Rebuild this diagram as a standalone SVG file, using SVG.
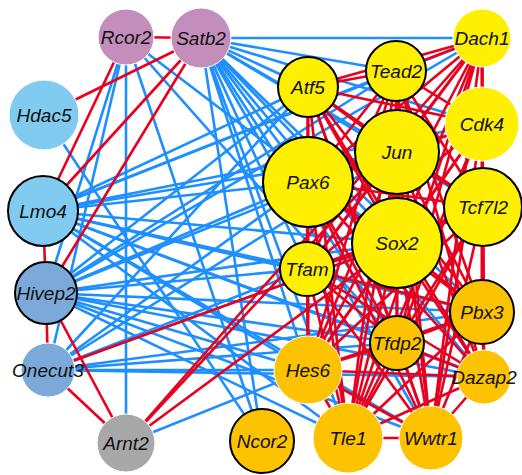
<svg xmlns="http://www.w3.org/2000/svg" width="522" height="475" viewBox="0 0 522 475">
<style>
.b{stroke:#1E8FFF;stroke-width:2.6;fill:none}
.r{stroke:#E8001F;stroke-width:2.6;fill:none}
.n{stroke:#ffffff;stroke-width:1}
.k{stroke:#000000;stroke-width:2}
.pu{fill:#C38EBC}.lb{fill:#80CBEF}.mb{fill:#7AA9DA}.gy{fill:#A8A8A8}.ye{fill:#FFEF00}.or{fill:#FDC200}
text{font-family:"Liberation Sans",Arial,sans-serif;font-style:italic;font-size:19px;text-anchor:middle;fill:#111}
</style>
<rect width="522" height="475" fill="#ffffff"/>
<g id="connectors">
<!-- blue: Satb2 -->
<line class="b" x1="201" y1="38" x2="482" y2="38"/>
<line class="b" x1="201" y1="38" x2="396" y2="71"/>
<line class="b" x1="201" y1="38" x2="482" y2="124"/>
<line class="b" x1="201" y1="38" x2="308" y2="87"/>
<line class="b" x1="201" y1="38" x2="397" y2="152"/>
<line class="b" x1="201" y1="38" x2="483" y2="207"/>
<line class="b" x1="201" y1="38" x2="308" y2="182"/>
<line class="b" x1="201" y1="38" x2="397" y2="243"/>
<line class="b" x1="201" y1="38" x2="307" y2="269"/>
<line class="b" x1="201" y1="38" x2="482" y2="312"/>
<line class="b" x1="201" y1="38" x2="397" y2="343"/>
<line class="b" x1="201" y1="38" x2="484" y2="377"/>
<line class="b" x1="201" y1="38" x2="308" y2="370"/>
<line class="b" x1="201" y1="38" x2="431" y2="438"/>
<line class="b" x1="201" y1="38" x2="348" y2="438"/>
<line class="b" x1="201" y1="38" x2="262" y2="441"/>
<!-- blue: Rcor2 -->
<line class="b" x1="126" y1="37" x2="46" y2="293"/>
<line class="b" x1="126" y1="37" x2="48" y2="370"/>
<line class="b" x1="126" y1="37" x2="126" y2="443"/>
<line class="b" x1="126" y1="37" x2="397" y2="343"/>
<line class="b" x1="126" y1="37" x2="397" y2="243"/>
<line class="b" x1="126" y1="37" x2="262" y2="441"/>
<!-- blue: Hdac5 -->
<line class="b" x1="44" y1="115" x2="262" y2="441"/>
<!-- blue: Lmo4 -->
<line class="b" x1="43" y1="211" x2="482" y2="38"/>
<line class="b" x1="43" y1="211" x2="308" y2="87"/>
<line class="b" x1="43" y1="211" x2="396" y2="71"/>
<line class="b" x1="43" y1="211" x2="482" y2="124"/>
<line class="b" x1="43" y1="211" x2="308" y2="182"/>
<line class="b" x1="43" y1="211" x2="397" y2="152"/>
<line class="b" x1="43" y1="211" x2="397" y2="243"/>
<line class="b" x1="43" y1="211" x2="307" y2="269"/>
<line class="b" x1="43" y1="211" x2="397" y2="343"/>
<line class="b" x1="43" y1="211" x2="308" y2="370"/>
<line class="b" x1="43" y1="211" x2="482" y2="312"/>
<line class="b" x1="43" y1="211" x2="484" y2="377"/>
<line class="b" x1="43" y1="211" x2="431" y2="438"/>
<line class="b" x1="43" y1="211" x2="348" y2="438"/>
<!-- blue: Hivep2 -->
<line class="b" x1="46" y1="293" x2="482" y2="38"/>
<line class="b" x1="46" y1="293" x2="308" y2="87"/>
<line class="b" x1="46" y1="293" x2="396" y2="71"/>
<line class="b" x1="46" y1="293" x2="308" y2="182"/>
<line class="b" x1="46" y1="293" x2="397" y2="152"/>
<line class="b" x1="46" y1="293" x2="397" y2="243"/>
<line class="b" x1="46" y1="293" x2="307" y2="269"/>
<line class="b" x1="46" y1="293" x2="397" y2="343"/>
<line class="b" x1="46" y1="293" x2="308" y2="370"/>
<line class="b" x1="46" y1="293" x2="482" y2="312"/>
<line class="b" x1="46" y1="293" x2="484" y2="377"/>
<line class="b" x1="46" y1="293" x2="348" y2="438"/>
<line class="b" x1="46" y1="293" x2="431" y2="438"/>
<!-- blue: Onecut3 -->
<line class="b" x1="48" y1="370" x2="308" y2="87"/>
<line class="b" x1="48" y1="370" x2="308" y2="182"/>
<line class="b" x1="48" y1="370" x2="397" y2="152"/>
<line class="b" x1="48" y1="370" x2="307" y2="269"/>
<line class="b" x1="48" y1="370" x2="397" y2="243"/>
<line class="b" x1="48" y1="370" x2="397" y2="343"/>
<line class="b" x1="48" y1="370" x2="308" y2="370"/>
<line class="b" x1="48" y1="370" x2="482" y2="312"/>
<line class="b" x1="48" y1="370" x2="484" y2="377"/>
<!-- blue: Arnt2 -->
<line class="b" x1="126" y1="443" x2="308" y2="370"/>
<!-- red: left side -->
<line class="r" x1="126" y1="37" x2="201" y2="38"/>
<line class="r" x1="201" y1="38" x2="44" y2="115"/>
<line class="r" x1="126" y1="37" x2="43" y2="211"/>
<line class="r" x1="201" y1="38" x2="43" y2="211"/>
<line class="r" x1="201" y1="38" x2="46" y2="293"/>
<line class="r" x1="43" y1="211" x2="46" y2="293"/>
<line class="r" x1="46" y1="293" x2="48" y2="370"/>
<line class="r" x1="46" y1="293" x2="126" y2="443"/>
<line class="r" x1="48" y1="370" x2="126" y2="443"/>
<line class="r" x1="48" y1="370" x2="397" y2="243"/>
<line class="r" x1="126" y1="443" x2="397" y2="152"/>
<line class="r" x1="126" y1="443" x2="482" y2="38"/>
<line class="r" x1="126" y1="443" x2="397" y2="243"/>
<!-- red: Dach1 -->
<line class="r" x1="482" y1="38" x2="396" y2="71"/>
<line class="r" x1="482" y1="38" x2="308" y2="87"/>
<line class="r" x1="482" y1="38" x2="482" y2="124"/>
<line class="r" x1="482" y1="38" x2="397" y2="152"/>
<line class="r" x1="482" y1="38" x2="308" y2="182"/>
<line class="r" x1="482" y1="38" x2="483" y2="207"/>
<line class="r" x1="482" y1="38" x2="397" y2="243"/>
<line class="r" x1="482" y1="38" x2="307" y2="269"/>
<line class="r" x1="482" y1="38" x2="482" y2="312"/>
<line class="r" x1="482" y1="38" x2="397" y2="343"/>
<line class="r" x1="482" y1="38" x2="308" y2="370"/>
<line class="r" x1="482" y1="38" x2="484" y2="377"/>
<line class="r" x1="482" y1="38" x2="348" y2="438"/>
<line class="r" x1="482" y1="38" x2="431" y2="438"/>
<!-- red: Tead2 -->
<line class="r" x1="396" y1="71" x2="308" y2="87"/>
<line class="r" x1="396" y1="71" x2="482" y2="124"/>
<line class="r" x1="396" y1="71" x2="397" y2="152"/>
<line class="r" x1="396" y1="71" x2="308" y2="182"/>
<line class="r" x1="396" y1="71" x2="483" y2="207"/>
<line class="r" x1="396" y1="71" x2="397" y2="243"/>
<line class="r" x1="396" y1="71" x2="307" y2="269"/>
<line class="r" x1="396" y1="71" x2="482" y2="312"/>
<line class="r" x1="396" y1="71" x2="397" y2="343"/>
<line class="r" x1="396" y1="71" x2="308" y2="370"/>
<line class="r" x1="396" y1="71" x2="484" y2="377"/>
<line class="r" x1="396" y1="71" x2="348" y2="438"/>
<line class="r" x1="396" y1="71" x2="431" y2="438"/>
<!-- red: Atf5 -->
<line class="r" x1="308" y1="87" x2="482" y2="124"/>
<line class="r" x1="308" y1="87" x2="397" y2="152"/>
<line class="r" x1="308" y1="87" x2="308" y2="182"/>
<line class="r" x1="308" y1="87" x2="483" y2="207"/>
<line class="r" x1="308" y1="87" x2="397" y2="243"/>
<line class="r" x1="308" y1="87" x2="307" y2="269"/>
<line class="r" x1="308" y1="87" x2="482" y2="312"/>
<line class="r" x1="308" y1="87" x2="397" y2="343"/>
<line class="r" x1="308" y1="87" x2="308" y2="370"/>
<line class="r" x1="308" y1="87" x2="484" y2="377"/>
<line class="r" x1="308" y1="87" x2="348" y2="438"/>
<line class="r" x1="308" y1="87" x2="431" y2="438"/>
<!-- red: Cdk4 -->
<line class="r" x1="482" y1="124" x2="397" y2="152"/>
<line class="r" x1="482" y1="124" x2="308" y2="182"/>
<line class="r" x1="482" y1="124" x2="483" y2="207"/>
<line class="r" x1="482" y1="124" x2="397" y2="243"/>
<line class="r" x1="482" y1="124" x2="307" y2="269"/>
<line class="r" x1="482" y1="124" x2="482" y2="312"/>
<line class="r" x1="482" y1="124" x2="397" y2="343"/>
<line class="r" x1="482" y1="124" x2="308" y2="370"/>
<line class="r" x1="482" y1="124" x2="484" y2="377"/>
<line class="r" x1="482" y1="124" x2="348" y2="438"/>
<line class="r" x1="482" y1="124" x2="431" y2="438"/>
<!-- red: Jun -->
<line class="r" x1="397" y1="152" x2="308" y2="182"/>
<line class="r" x1="397" y1="152" x2="483" y2="207"/>
<line class="r" x1="397" y1="152" x2="397" y2="243"/>
<line class="r" x1="397" y1="152" x2="307" y2="269"/>
<line class="r" x1="397" y1="152" x2="482" y2="312"/>
<line class="r" x1="397" y1="152" x2="397" y2="343"/>
<line class="r" x1="397" y1="152" x2="308" y2="370"/>
<line class="r" x1="397" y1="152" x2="484" y2="377"/>
<line class="r" x1="397" y1="152" x2="348" y2="438"/>
<line class="r" x1="397" y1="152" x2="431" y2="438"/>
<!-- red: Pax6 -->
<line class="r" x1="308" y1="182" x2="483" y2="207"/>
<line class="r" x1="308" y1="182" x2="397" y2="243"/>
<line class="r" x1="308" y1="182" x2="307" y2="269"/>
<line class="r" x1="308" y1="182" x2="482" y2="312"/>
<line class="r" x1="308" y1="182" x2="397" y2="343"/>
<line class="r" x1="308" y1="182" x2="308" y2="370"/>
<line class="r" x1="308" y1="182" x2="484" y2="377"/>
<line class="r" x1="308" y1="182" x2="348" y2="438"/>
<line class="r" x1="308" y1="182" x2="431" y2="438"/>
<!-- red: Tcf7l2 -->
<line class="r" x1="483" y1="207" x2="397" y2="243"/>
<line class="r" x1="483" y1="207" x2="307" y2="269"/>
<line class="r" x1="483" y1="207" x2="482" y2="312"/>
<line class="r" x1="483" y1="207" x2="397" y2="343"/>
<line class="r" x1="483" y1="207" x2="308" y2="370"/>
<line class="r" x1="483" y1="207" x2="484" y2="377"/>
<line class="r" x1="483" y1="207" x2="348" y2="438"/>
<line class="r" x1="483" y1="207" x2="431" y2="438"/>
<!-- red: Sox2 -->
<line class="r" x1="397" y1="243" x2="307" y2="269"/>
<line class="r" x1="397" y1="243" x2="482" y2="312"/>
<line class="r" x1="397" y1="243" x2="397" y2="343"/>
<line class="r" x1="397" y1="243" x2="308" y2="370"/>
<line class="r" x1="397" y1="243" x2="484" y2="377"/>
<line class="r" x1="397" y1="243" x2="348" y2="438"/>
<line class="r" x1="397" y1="243" x2="431" y2="438"/>
<!-- red: Tfam -->
<line class="r" x1="307" y1="269" x2="482" y2="312"/>
<line class="r" x1="307" y1="269" x2="397" y2="343"/>
<line class="r" x1="307" y1="269" x2="308" y2="370"/>
<line class="r" x1="307" y1="269" x2="484" y2="377"/>
<line class="r" x1="307" y1="269" x2="348" y2="438"/>
<line class="r" x1="307" y1="269" x2="431" y2="438"/>
<!-- red: Pbx3 -->
<line class="r" x1="482" y1="312" x2="397" y2="343"/>
<line class="r" x1="482" y1="312" x2="308" y2="370"/>
<line class="r" x1="482" y1="312" x2="484" y2="377"/>
<line class="r" x1="482" y1="312" x2="348" y2="438"/>
<line class="r" x1="482" y1="312" x2="431" y2="438"/>
<!-- red: Tfdp2 -->
<line class="r" x1="397" y1="343" x2="308" y2="370"/>
<line class="r" x1="397" y1="343" x2="484" y2="377"/>
<line class="r" x1="397" y1="343" x2="348" y2="438"/>
<line class="r" x1="397" y1="343" x2="431" y2="438"/>
<!-- red: Hes6, Dazap2, Tle1 -->
<line class="r" x1="308" y1="370" x2="484" y2="377"/>
<line class="r" x1="308" y1="370" x2="348" y2="438"/>
<line class="r" x1="308" y1="370" x2="431" y2="438"/>
<line class="r" x1="484" y1="377" x2="348" y2="438"/>
<line class="r" x1="484" y1="377" x2="431" y2="438"/>
<line class="r" x1="348" y1="438" x2="431" y2="438"/>
</g>
<g id="Rcor2"><circle class="pu n" cx="126" cy="37" r="28"/><text x="126" y="44">Rcor2</text></g>
<g id="Satb2"><circle class="pu n" cx="201" cy="38" r="30"/><text x="201" y="45">Satb2</text></g>
<g id="Hdac5"><circle class="lb n" cx="44" cy="115" r="35"/><text x="44" y="122">Hdac5</text></g>
<g id="Lmo4"><circle class="lb k" cx="43" cy="211" r="35"/><text x="43" y="218">Lmo4</text></g>
<g id="Hivep2"><circle class="mb k" cx="46" cy="293" r="31"/><text x="46" y="300">Hivep2</text></g>
<g id="Onecut3"><circle class="mb n" cx="48" cy="370" r="27"/><text x="48" y="377">Onecut3</text></g>
<g id="Arnt2"><circle class="gy n" cx="126" cy="443" r="29"/><text x="126" y="450">Arnt2</text></g>
<g id="Ncor2"><circle class="or k" cx="262" cy="441" r="32"/><text x="262" y="448">Ncor2</text></g>
<g id="Tle1"><circle class="or n" cx="348" cy="438" r="35"/><text x="348" y="445">Tle1</text></g>
<g id="Wwtr1"><circle class="or n" cx="431" cy="438" r="32"/><text x="431" y="445">Wwtr1</text></g>
<g id="Dazap2"><circle class="or n" cx="484" cy="377" r="27"/><text x="484" y="384">Dazap2</text></g>
<g id="Pbx3"><circle class="or k" cx="482" cy="312" r="32"/><text x="482" y="319">Pbx3</text></g>
<g id="Hes6"><circle class="or n" cx="308" cy="370" r="34"/><text x="308" y="377">Hes6</text></g>
<g id="Tfdp2"><circle class="or k" cx="397" cy="343" r="27"/><text x="397" y="350">Tfdp2</text></g>
<g id="Tfam"><circle class="ye k" cx="307" cy="269" r="27"/><text x="307" y="276">Tfam</text></g>
<g id="Sox2"><circle class="ye k" cx="397" cy="243" r="45"/><text x="397" y="250">Sox2</text></g>
<g id="Pax6"><circle class="ye k" cx="308" cy="182" r="45"/><text x="308" y="189">Pax6</text></g>
<g id="Jun"><circle class="ye k" cx="397" cy="152" r="42"/><text x="397" y="159">Jun</text></g>
<g id="Tcf7l2"><circle class="ye k" cx="483" cy="207" r="39"/><text x="483" y="214">Tcf7l2</text></g>
<g id="Cdk4"><circle class="ye n" cx="482" cy="124" r="37"/><text x="482" y="131">Cdk4</text></g>
<g id="Atf5"><circle class="ye k" cx="308" cy="87" r="30"/><text x="308" y="94">Atf5</text></g>
<g id="Tead2"><circle class="ye k" cx="396" cy="71" r="30"/><text x="396" y="78">Tead2</text></g>
<g id="Dach1"><circle class="ye n" cx="482" cy="38" r="29"/><text x="482" y="45">Dach1</text></g>
</svg>
